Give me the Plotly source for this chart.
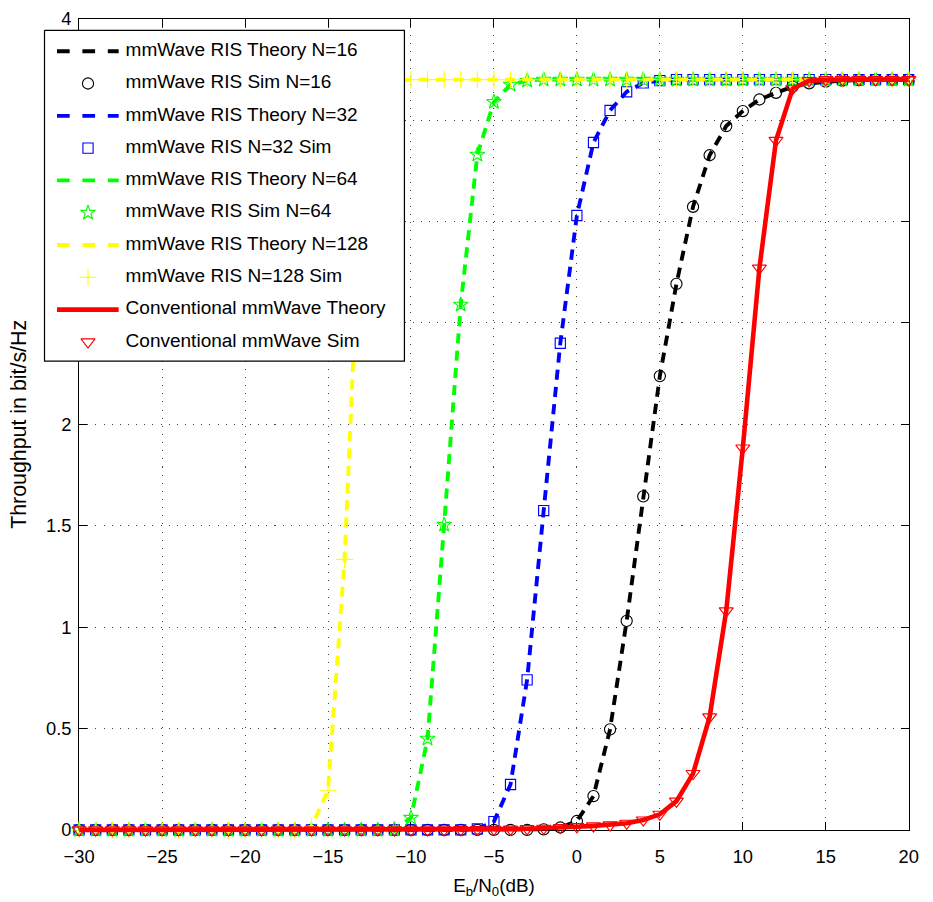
import plotly.graph_objects as go

# Eb/N0 sweep (dB)
snr_db = list(range(-30, 21))

# Throughput (bit/s/Hz) at each Eb/N0 point
thr_ris_n16 = [
    0, 0, 0, 0, 0, 0, 0, 0, 0, 0,
    0, 0, 0, 0, 0, 0, 0, 0, 0, 0,
    0, 0, 0, 0, 0, 0, 0, 0, 0.003, 0.012,
    0.044, 0.167, 0.496, 1.031, 1.645, 2.238, 2.693, 3.073, 3.327, 3.471,
    3.545, 3.602, 3.635, 3.665, 3.682, 3.690, 3.695, 3.698, 3.700, 3.700,
    3.700,
]
thr_ris_n32 = [
    0, 0, 0, 0, 0, 0, 0, 0, 0, 0,
    0, 0, 0, 0, 0, 0, 0, 0, 0, 0,
    0, 0, 0, 0, 0.005, 0.041, 0.224, 0.740, 1.575, 2.400,
    3.030, 3.390, 3.548, 3.640, 3.684, 3.695, 3.700, 3.700, 3.700, 3.700,
    3.700, 3.700, 3.700, 3.700, 3.700, 3.700, 3.700, 3.700, 3.700, 3.700,
    3.700,
]
thr_ris_n64 = [
    0, 0, 0, 0, 0, 0, 0, 0, 0, 0,
    0, 0, 0, 0, 0, 0, 0, 0, 0, 0.003,
    0.060, 0.450, 1.505, 2.590, 3.330, 3.590, 3.675, 3.695, 3.700, 3.700,
    3.700, 3.700, 3.700, 3.700, 3.700, 3.700, 3.700, 3.700, 3.700, 3.700,
    3.700, 3.700, 3.700, 3.700, 3.700, 3.700, 3.700, 3.700, 3.700, 3.700,
    3.700,
]
thr_ris_n128 = [
    0, 0, 0, 0, 0, 0, 0, 0, 0, 0,
    0, 0, 0, 0, 0.015, 0.196, 1.334, 3.230, 3.660, 3.695,
    3.700, 3.700, 3.700, 3.700, 3.700, 3.700, 3.700, 3.700, 3.700, 3.700,
    3.700, 3.700, 3.700, 3.700, 3.700, 3.700, 3.700, 3.700, 3.700, 3.700,
    3.700, 3.700, 3.700, 3.700, 3.700, 3.700, 3.700, 3.700, 3.700, 3.700,
    3.700,
]
thr_conventional = [
    0, 0, 0, 0, 0, 0, 0, 0, 0, 0,
    0, 0, 0, 0, 0, 0, 0, 0, 0, 0,
    0, 0, 0, 0.001, 0.002, 0.003, 0.004, 0.006, 0.008, 0.012,
    0.016, 0.020, 0.025, 0.033, 0.049, 0.077, 0.142, 0.278, 0.557, 1.080,
    1.883, 2.770, 3.400, 3.655, 3.695, 3.700, 3.700, 3.700, 3.700, 3.700,
    3.700,
]

legend_labels = [
    "mmWave RIS Theory N=16",
    "mmWave RIS Sim N=16",
    "mmWave RIS Theory N=32",
    "mmWave RIS N=32 Sim",
    "mmWave RIS Theory N=64",
    "mmWave RIS Sim N=64",
    "mmWave RIS Theory N=128",
    "mmWave RIS N=128 Sim",
    "Conventional mmWave Theory",
    "Conventional mmWave Sim",
]

FIG_W, FIG_H = 933, 902
FONT = "Liberation Sans, Arial, Helvetica, sans-serif"

# The page keeps the browser's 8px body margin and is shown scaled so that
# margin + figure fit the window; layout positions below are given in window
# pixels and converted to figure coordinates here.
BODY_MARGIN = 8
SX = FIG_W / (FIG_W + 2 * BODY_MARGIN)
SY = FIG_H / (FIG_H + 2 * BODY_MARGIN)
K = 1 / SX  # size compensation for the scaling


def fx(px):
    return (px / SX - BODY_MARGIN) / FIG_W


def fy(px):
    return 1 - (px / SY - BODY_MARGIN) / FIG_H


def sz(v):
    return round(v * K, 2)


def dash(a, b):
    return f"{sz(a)}px,{sz(b)}px"


# plot area in window pixels
AX_L, AX_R, AX_T, AX_B = 71.7, 910.7, 15.7, 831.7
X_MIN, X_MAX, Y_MIN, Y_MAX = -30, 20, 0, 4
PX_PER_X = (AX_R - AX_L) / (X_MAX - X_MIN)
PX_PER_Y = (AX_B - AX_T) / (Y_MAX - Y_MIN)

# legend box in window pixels
LG_L, LG_R, LG_T, LG_B = 36.7, 400.7, 27.3, 360.0
LG_W, LG_H = LG_R - LG_L, LG_B - LG_T

DASH = dash(10, 7)
DASH_WIDTH = sz(3.8)
SOLID_WIDTH = sz(4.5)
MARKER_LINE = sz(1.1)

curves = [
    dict(y=thr_ris_n16, color="#000000", dash=DASH, width=DASH_WIDTH,
         symbol="circle-open", size=sz(11)),
    dict(y=thr_ris_n32, color="#0000ff", dash=DASH, width=DASH_WIDTH,
         symbol="square-open", size=sz(10)),
    dict(y=thr_ris_n64, color="#00ff00", dash=DASH, width=DASH_WIDTH,
         symbol="star-open", size=sz(11)),
    dict(y=thr_ris_n128, color="#ffff00", dash=DASH, width=DASH_WIDTH,
         symbol="cross-thin-open", size=sz(12)),
    dict(y=thr_conventional, color="#ff0000", dash="solid", width=SOLID_WIDTH,
         symbol="triangle-down-open", size=sz(12)),
]

fig = go.Figure()

# empty trace so the framed axes subplot exists
fig.add_trace(go.Scatter(x=[None], y=[None], xaxis="x", yaxis="y",
                         showlegend=False, hoverinfo="skip"))

# curves live on a hidden twin subplot with a few pixels of slack so the
# thick lines along y=0 are not cut in half by the clip region
for c in curves:
    fig.add_trace(go.Scatter(
        x=snr_db, y=c["y"], mode="lines", xaxis="x2", yaxis="y2",
        line=dict(color=c["color"], width=c["width"], dash=c["dash"]),
        showlegend=False, hoverinfo="skip",
    ))
    fig.add_trace(go.Scatter(
        x=snr_db, y=c["y"], mode="markers", xaxis="x2", yaxis="y2",
        marker=dict(symbol=c["symbol"], size=c["size"], color=c["color"],
                    line=dict(color=c["color"], width=MARKER_LINE)),
        cliponaxis=False, showlegend=False, hoverinfo="skip",
    ))

# hand-drawn legend box (window-pixel coordinates inside its own subplot)
fig.add_trace(go.Scatter(
    x=[0, LG_W, LG_W, 0, 0], y=[0, 0, LG_H, LG_H, 0],
    mode="lines", fill="toself", fillcolor="#ffffff",
    line=dict(color="#000000", width=sz(1.2)),
    xaxis="x3", yaxis="y3", showlegend=False, hoverinfo="skip",
))

ROW0, ROW_STEP = 21.0, 32.5
SAMPLE_X0, SAMPLE_X1, MARK_X, TEXT_X = 12.6, 75.0, 44.0, 82.0
for i, label in enumerate(legend_labels):
    c = curves[i // 2]
    ry = ROW0 + ROW_STEP * i
    if i % 2 == 0:
        fig.add_trace(go.Scatter(
            x=[SAMPLE_X0, SAMPLE_X1], y=[ry, ry], mode="lines",
            line=dict(color=c["color"], width=c["width"],
                      dash=dash(12.5, 12.5) if c["dash"] != "solid" else "solid"),
            xaxis="x3", yaxis="y3", showlegend=False, hoverinfo="skip",
        ))
    else:
        fig.add_trace(go.Scatter(
            x=[MARK_X], y=[ry], mode="markers",
            marker=dict(symbol=c["symbol"], size=c["size"], color=c["color"],
                        line=dict(color=c["color"], width=MARKER_LINE)),
            xaxis="x3", yaxis="y3", showlegend=False, hoverinfo="skip",
        ))
    fig.add_trace(go.Scatter(
        x=[TEXT_X], y=[ry], mode="text", text=[label],
        textposition="middle right",
        textfont=dict(family=FONT, size=sz(18.7), color="#000000"),
        cliponaxis=False,
        xaxis="x3", yaxis="y3", showlegend=False, hoverinfo="skip",
    ))

axis_common = dict(
    showline=True, linecolor="#000000", linewidth=1,
    mirror="ticks", ticks="inside", ticklen=sz(8), tickwidth=1, tickcolor="#000000",
    showgrid=True, gridcolor="#444444", gridwidth=1, griddash=dash(1, 7),
    zeroline=False, ticklabeloverflow="allow",
    tickfont=dict(family=FONT, size=sz(18), color="#000000"),
)

SLACK = 4  # px
hidden = dict(visible=False, showgrid=False, zeroline=False, fixedrange=True)

fig.update_layout(
    width=FIG_W, height=FIG_H,
    margin=dict(l=0, r=0, t=0, b=0, pad=0),
    paper_bgcolor="#ffffff", plot_bgcolor="rgba(0,0,0,0)",
    font=dict(family=FONT, color="#000000"),
    showlegend=False,
    xaxis=dict(
        axis_common,
        domain=[fx(AX_L), fx(AX_R)],
        range=[X_MIN, X_MAX], tick0=-30, dtick=5,
        ticklabelstandoff=10,
        title=dict(text="E<sub>b</sub>/N<sub>0</sub>(dB)",
                   font=dict(family=FONT, size=sz(18.5)), standoff=12),
    ),
    yaxis=dict(
        axis_common,
        domain=[fy(AX_B), fy(AX_T)],
        range=[Y_MIN, Y_MAX], tick0=0, dtick=0.5,
        ticklabelstandoff=3,
        title=dict(text="Throughput in bit/s/Hz",
                   font=dict(family=FONT, size=sz(21)), standoff=13),
    ),
    xaxis2=dict(
        hidden,
        domain=[fx(AX_L - SLACK), fx(AX_R + SLACK)],
        range=[X_MIN - SLACK / PX_PER_X, X_MAX + SLACK / PX_PER_X],
    ),
    yaxis2=dict(
        hidden,
        domain=[fy(AX_B + SLACK), fy(AX_T - SLACK)],
        range=[Y_MIN - SLACK / PX_PER_Y, Y_MAX + SLACK / PX_PER_Y],
    ),
    xaxis3=dict(
        hidden,
        domain=[fx(LG_L - 2), fx(LG_R + 2)],
        range=[-2, LG_W + 2],
    ),
    yaxis3=dict(
        hidden,
        domain=[fy(LG_B + 2), fy(LG_T - 2)],
        range=[LG_H + 2, -2],
    ),
)

fig.write_html("out.html")
